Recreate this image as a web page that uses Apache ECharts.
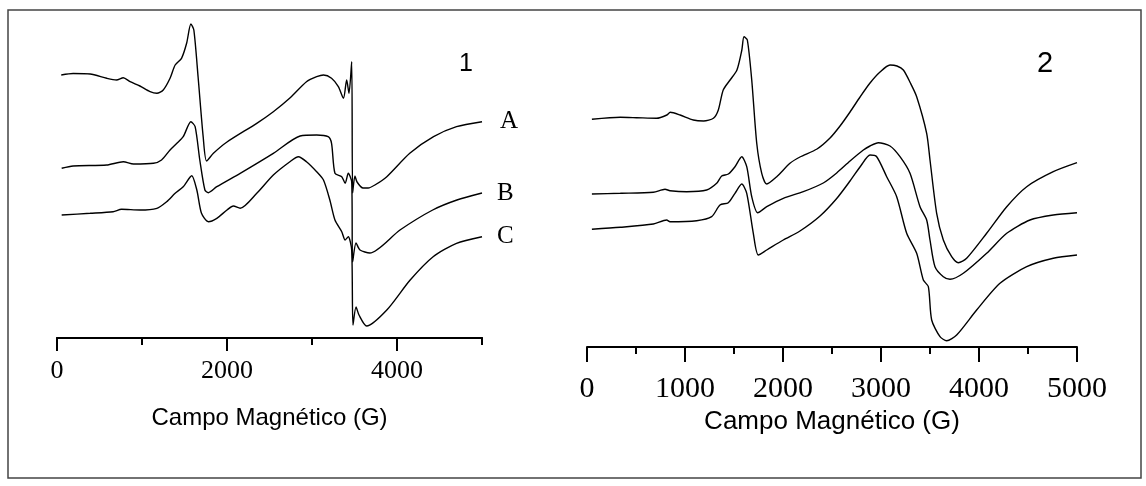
<!DOCTYPE html>
<html>
<head>
<meta charset="utf-8">
<script src="https://cdn.jsdelivr.net/npm/echarts@6/dist/echarts.min.js"></script>
<style>
  html, body { margin: 0; padding: 0; background: #fff; }
  #chart { width: 1146px; height: 486px; }
</style>
</head>
<body>
<div id="chart"></div>
<script>
// ---- Data (field in G, signal in arbitrary units) ----
const panelTitles = ['1', '2'];
const seriesNames = ['A', 'B', 'C'];
const axisTitle = 'Campo Magnético (G)';

const leftMajorTicks = [0, 2000, 4000];
const leftMinorTicks = [1000, 3000, 5000];
const rightTickStep = 1000;

const left1A = [[50,263],[190,264.5],[390,264],[585,259.7],[700,258],[780,260.3],[860,256.3],[975,252],[1095,246.3],[1175,244.7],[1250,248],[1330,259.7],[1390,273],[1465,279.7],[1525,294.7],[1575,314],[1610,308],[1660,261],[1720,201],[1760,177],[1840,184.7],[2000,196],[2350,214.7],[2545,226.3],[2740,240],[2935,256.3],[3055,261.3],[3135,263],[3230,259.7],[3310,251.3],[3370,239.7],[3408,258],[3435,244.7],[3467,276.3],[3478,145],[3505,162],[3530,156],[3600,150],[3660,150],[3740,153],[3880,161.3],[4150,184.7],[4430,201.3],[4700,211.3],[5000,216.3]];
const left1B = [[55,169.7],[190,172],[585,173],[780,176.3],[900,174],[1135,174.7],[1230,178],[1330,188],[1410,194.7],[1485,201.3],[1575,216.3],[1625,211.3],[1680,178],[1740,148],[1780,145.3],[1880,151.3],[2155,164.7],[2545,184.7],[2860,202],[3055,203],[3190,201.3],[3230,194.7],[3270,164.7],[3350,161.3],[3390,154.7],[3427,164.7],[3467,156.3],[3478,76],[3518,95],[3565,88],[3680,85],[4035,108],[4420,128],[4705,138],[5000,145]];
const left1C = [[55,123],[390,124.7],[660,126.3],[760,128.7],[975,128],[1175,129.7],[1290,136.3],[1390,144.7],[1485,151.3],[1585,162.3],[1645,148],[1700,124.7],[1780,116.3],[1880,119.7],[2000,128],[2075,132],[2155,129.7],[2350,144.7],[2545,163],[2740,176.3],[2840,181.3],[2935,176.3],[3055,166.3],[3135,158],[3210,138],[3270,118],[3350,106.3],[3390,98],[3427,101.3],[3467,88],[3482,13],[3518,31],[3553,23],[3643,12],[3880,28],[4155,58],[4425,81.3],[4700,94.7],[5000,101.3]];

const right2A = [[50,227.7],[340,229.7],[505,229.3],[710,228.7],[815,232],[850,234.7],[950,232],[1085,227],[1190,226],[1290,228.7],[1340,237],[1390,257],[1460,267],[1530,277],[1580,297],[1602,310.3],[1636,307],[1681,267],[1732,203.7],[1783,173.7],[1834,163],[1936,170.3],[2071,183.7],[2173,190],[2347,198],[2480,209],[2582,221],[2684,235],[2786,250],[2888,264],[2990,275],[3092,282],[3163,281],[3228,277],[3300,264],[3364,250.3],[3466,213.7],[3500,187],[3568,133.7],[3636,107],[3721,90.3],[3789,84.3],[3874,88.7],[4078,113.7],[4283,140.3],[4487,160.3],[4758,175.3],[5000,184.3]];
const right2B = [[50,153],[340,153.7],[677,154.7],[796,157.7],[847,156.3],[1017,155.3],[1221,157],[1323,163.7],[1374,171],[1442,173],[1510,180.3],[1579,190.3],[1630,180.3],[1681,150.3],[1742,134.3],[1834,140.3],[2003,148.7],[2207,155.3],[2411,164],[2548,174],[2684,186],[2820,197],[2888,201],[2972,204.3],[3092,201],[3194,190.3],[3296,173.7],[3398,140.3],[3466,127],[3500,107],[3551,80.3],[3636,70.3],[3704,67.7],[3840,73.7],[4078,93.7],[4283,113.7],[4520,127],[4758,132],[5000,134.3]];
const right2C = [[50,117.7],[340,119.7],[677,123],[813,127],[847,125.3],[1119,126.3],[1272,130.3],[1357,142],[1442,144.3],[1510,153.7],[1579,163],[1630,153.7],[1697,113.7],[1748,92],[1834,97],[2003,107],[2173,116],[2378,131],[2548,148.5],[2684,166],[2800,182],[2888,192],[2956,190.3],[3058,170.3],[3160,150.3],[3262,113.7],[3364,93.7],[3432,67],[3483,60.3],[3517,27],[3602,10.3],[3670,6.3],[3772,12],[3976,37],[4214,63.7],[4487,80.3],[4758,88.7],[5000,92]];

// ---- Chart ----
const SERIF = "'Liberation Serif', 'Times New Roman', serif";
const SANS = "'Liberation Sans', Arial, sans-serif";
const chart = echarts.init(document.getElementById('chart'), null, { renderer: 'canvas' });
const plainNumber = function (v) { return String(v); };

function lineSeries(name, data, xi, yi, label, dist) {
  const s = {
    name: name, type: 'line', xAxisIndex: xi, yAxisIndex: yi, data: data,
    showSymbol: false, symbol: 'none', smooth: 0.25,
    lineStyle: { color: '#000', width: 1.4 }, silent: true, z: 3
  };
  if (label) {
    s.endLabel = { show: true, formatter: label, color: '#000', fontFamily: SERIF,
                   fontSize: 25, distance: dist, verticalAlign: 'middle' };
  }
  return s;
}

const option = {
  animation: false,
  backgroundColor: '#fff',
  grid: [
    { left: 57, width: 425, top: 11, height: 327 },
    { left: 587, width: 490, top: 11, height: 336 }
  ],
  xAxis: [
    { gridIndex: 0, type: 'value', position: 'bottom', min: 0, max: 5000, interval: 1000,
      axisLine: { show: true, lineStyle: { color: '#000', width: 2 } },
      axisTick: { show: true, customValues: leftMinorTicks, length: 7, lineStyle: { color: '#000', width: 2 } },
      axisLabel: { show: false }, splitLine: { show: false },
      name: axisTitle, nameLocation: 'middle', nameGap: 68,
      nameTextStyle: { fontFamily: SANS, fontSize: 24, color: '#000' } },
    { gridIndex: 0, type: 'value', position: 'bottom', min: 0, max: 5000, interval: 1000,
      axisLine: { show: true, lineStyle: { color: '#000', width: 2 } },
      axisTick: { show: true, customValues: leftMajorTicks, length: 13, lineStyle: { color: '#000', width: 2 } },
      axisLabel: { show: true, customValues: leftMajorTicks, formatter: plainNumber,
                   fontFamily: SERIF, fontSize: 26, color: '#000', margin: 20 },
      splitLine: { show: false } },
    { gridIndex: 1, type: 'value', position: 'bottom', min: 0, max: 5000, interval: rightTickStep,
      axisLine: { show: true, lineStyle: { color: '#000', width: 2 } },
      axisTick: { show: true, length: 15, lineStyle: { color: '#000', width: 2 } },
      minorTick: { show: true, splitNumber: 2, length: 7, lineStyle: { color: '#000', width: 2 } },
      axisLabel: { show: true, formatter: plainNumber, fontFamily: SERIF, fontSize: 30, color: '#000', margin: 27 },
      splitLine: { show: false }, minorSplitLine: { show: false },
      name: axisTitle, nameLocation: 'middle', nameGap: 56,
      nameTextStyle: { fontFamily: SANS, fontSize: 26, color: '#000' } }
  ],
  yAxis: [
    { gridIndex: 0, type: 'value', min: 0, max: 327, show: false },
    { gridIndex: 1, type: 'value', min: 0, max: 336, show: false }
  ],
  graphic: [
    { type: 'rect', shape: { x: 8, y: 10, width: 1133, height: 468 },
      style: { fill: 'none', stroke: '#444', lineWidth: 1.5 }, z: 0, silent: true },
    { type: 'text', x: 466, y: 64, style: { text: panelTitles[0], font: '25px ' + SANS, fill: '#000',
      textAlign: 'center', textVerticalAlign: 'middle' } },
    { type: 'text', x: 1045, y: 64, style: { text: panelTitles[1], font: '29px ' + SANS, fill: '#000',
      textAlign: 'center', textVerticalAlign: 'middle' } }
  ],
  series: [
    lineSeries('1' + seriesNames[0], left1A, 0, 0, seriesNames[0], 18),
    lineSeries('1' + seriesNames[1], left1B, 0, 0, seriesNames[1], 15),
    lineSeries('1' + seriesNames[2], left1C, 0, 0, seriesNames[2], 15),
    lineSeries('2' + seriesNames[0], right2A, 2, 1),
    lineSeries('2' + seriesNames[1], right2B, 2, 1),
    lineSeries('2' + seriesNames[2], right2C, 2, 1)
  ]
};
chart.setOption(option);
</script>
</body>
</html>
